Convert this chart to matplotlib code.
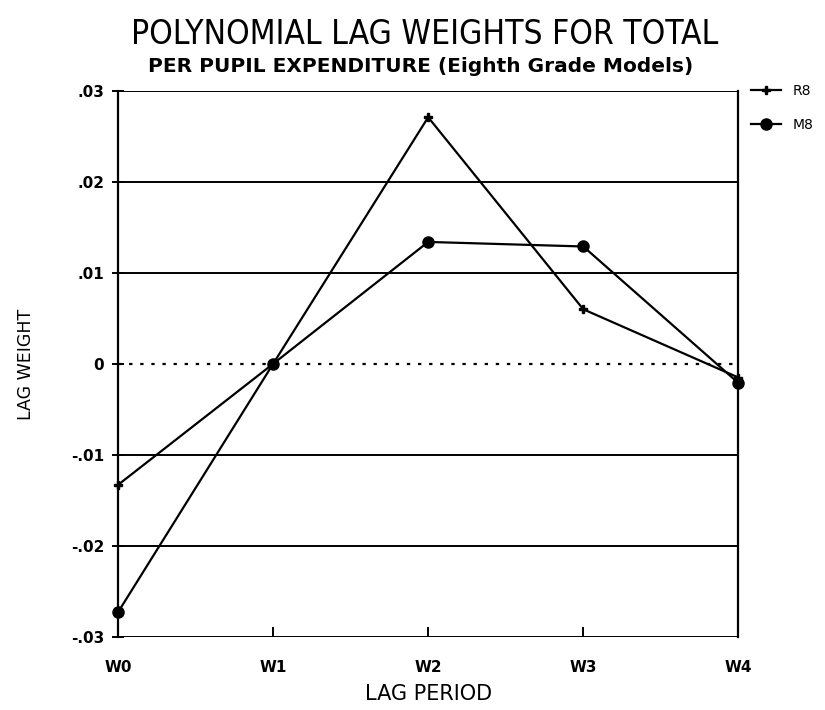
import matplotlib
matplotlib.use("Agg")
import matplotlib.pyplot as plt

periods = ["W0", "W1", "W2", "W3", "W4"]
r8 = [-0.0133, 0.0, 0.0271, 0.0060, -0.0015]
m8 = [-0.0273, 0.0, 0.0134, 0.0129, -0.0021]
yticks = [-0.03, -0.02, -0.01, 0.0, 0.01, 0.02, 0.03]
ytick_labels = ["-.03", "-.02", "-.01", "0", ".01", ".02", ".03"]

plt.rcParams['font.family'] = ['DejaVu Sans']

fig = plt.figure(figsize=(8.25, 7.1), dpi=100)
ax = fig.add_axes([0.143, 0.103, 0.752, 0.769])

x = list(range(len(periods)))
ax.plot(x, r8, color="black", lw=1.6, marker="P", ms=6, label="R8", clip_on=False)
ax.plot(x, m8, color="black", lw=1.6, marker="o", ms=8, label="M8", clip_on=False)

for v in yticks:
    if v == 0:
        ax.axhline(v, color="black", lw=1.6, ls=(0, (1.5, 3.5)), zorder=0)
    else:
        ax.axhline(v, color="black", lw=1.4, zorder=0)

ax.set_xlim(0, 4)
ax.set_ylim(-0.03, 0.03)
ax.set_xticks(x)
ax.set_xticklabels(periods, fontsize=11, fontweight="bold")
ax.set_yticks(yticks)
ax.set_yticklabels(ytick_labels, fontsize=11, fontweight="bold")
ax.tick_params(axis="y", direction="inout", length=8, width=1.4, pad=6)
ax.tick_params(axis="x", direction="in", length=7, width=1.4, pad=17)

for s in ["top", "bottom"]:
    ax.spines[s].set_visible(False)
for s in ["left", "right"]:
    ax.spines[s].set_linewidth(1.6)

ax.set_xlabel("LAG PERIOD", fontsize=15, labelpad=6)
ax.set_ylabel("LAG WEIGHT", fontsize=12.5, labelpad=26)

fig.text(0.515, 0.952, "POLYNOMIAL LAG WEIGHTS FOR TOTAL", ha="center", va="center",
         fontsize=24, fontstretch="condensed")
fig.text(0.51, 0.907, "PER PUPIL EXPENDITURE (Eighth Grade Models)", ha="center",
         va="center", fontsize=14.5, fontweight="bold")

ax.legend(loc="upper left", bbox_to_anchor=(1.0, 1.035), frameon=False,
          fontsize=10, handlelength=2.2, labelspacing=1.4, borderaxespad=0.5)

fig.savefig("out.png", dpi=100)
